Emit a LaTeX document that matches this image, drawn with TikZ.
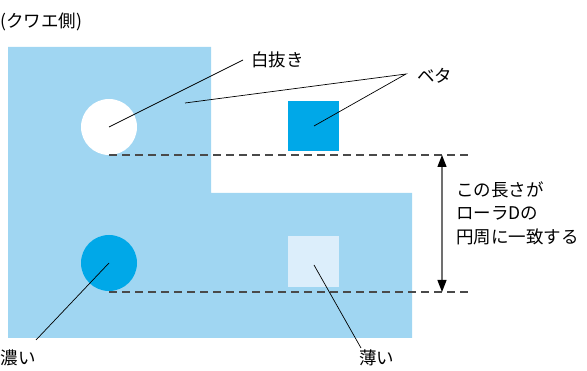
\documentclass[tikz,border=0pt]{standalone}
\usepackage{fontspec}
\setmainfont{Noto Sans CJK JP}
\usetikzlibrary{arrows.meta}
\definecolor{lblue}{HTML}{A0D6F2}
\definecolor{dblue}{HTML}{00A8E8}
\definecolor{pale}{HTML}{DCEEFB}
\definecolor{dashgray}{HTML}{4A4A4A}
\definecolor{arrgray}{HTML}{707070}
\tikzset{
  lbl/.style={inner sep=0pt, font=\fontsize{17.5}{23.5}\selectfont, anchor=west, align=left},
  leader/.style={draw=black, line width=0.7pt},
  guide/.style={draw=dashgray, line width=1.1pt, dash pattern=on 8pt off 5pt},
  dimarrow/.style={draw=arrgray, line width=1.3pt, {Triangle[length=12pt,width=9pt,color=black]}-{Triangle[length=12pt,width=9pt,color=black]}},
}
\begin{document}
\begin{tikzpicture}[x=1pt,y=-1pt]
\useasboundingbox (0,0) rectangle (587,371);
% L-shaped light blue area
\fill[lblue] (8,47) -- (211,47) -- (211,193) -- (412,193) -- (412,338) -- (8,338) -- cycle;
% shapes
\fill[white] (109,127) circle (28);
\fill[dblue] (109,263) circle (28);
\fill[dblue] (288,101) rectangle (339,151);
\fill[pale] (288,236) rectangle (339,287);
\coordinate (wc) at (109,127);
\coordinate (bc) at (109,263);
\coordinate (bs) at (314,126);
\coordinate (ps) at (314,265);
\coordinate (bg) at (185,103);
% dashed guides
\coordinate (u1) at (109,155);
\coordinate (u2) at (470,155);
\coordinate (l1) at (109,292);
\coordinate (l2) at (470,292);
\draw[guide] (u1) -- (u2);
\draw[guide] (l1) -- (l2);
% dimension arrow
\coordinate (a1) at (442,155);
\coordinate (a2) at (442,292);
\draw[dimarrow] (a1) -- (a2);
% labels
\node[lbl] (side) at (0,22) {(クワエ側)};
\node[lbl] (shiro) at (251,60) {白抜き};
\node[lbl] (beta) at (417,76) {ベタ};
\node[lbl] (koi) at (0.5,358) {濃い};
\node[lbl] (usui) at (359,358) {薄い};
\node[lbl] (note) at (456,213) {この長さが\\ローラDの\\円周に一致する};
% leader lines
\coordinate (shiroL) at (243,60);
\coordinate (betaL) at (406,74);
\coordinate (koiL) at (36,340);
\coordinate (usuiL) at (361,348);
\draw[leader] (wc) -- (shiroL);
\draw[leader] (bg) -- (betaL) -- (bs);
\draw[leader] (bc) -- (koiL);
\draw[leader] (ps) -- (usuiL);
\end{tikzpicture}
\end{document}
